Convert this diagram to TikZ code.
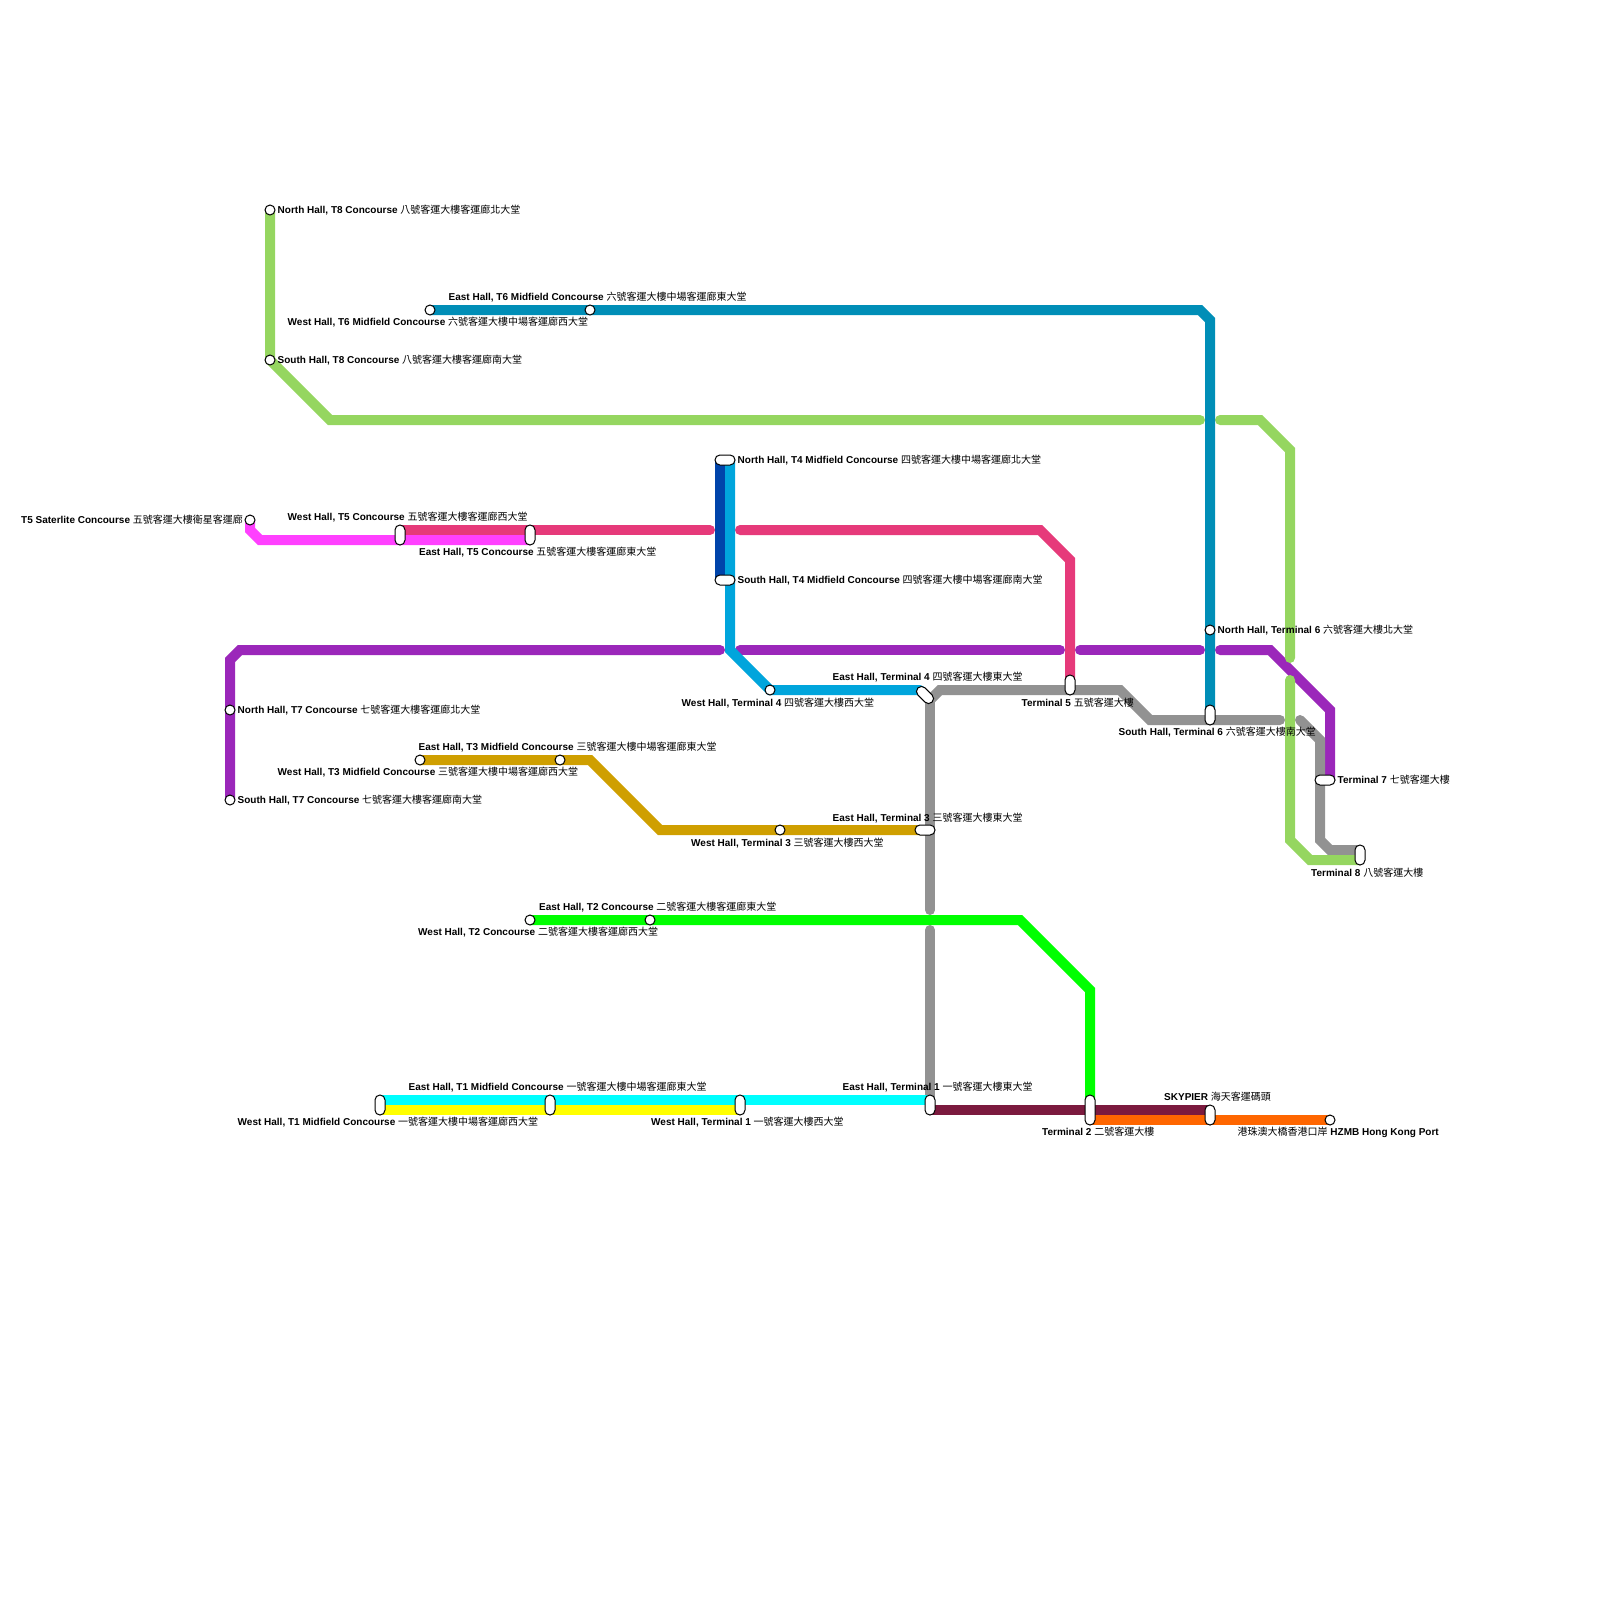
\documentclass[tikz,border=0pt]{standalone}
\usepackage{fontspec}
\setmainfont{Liberation Sans}
\newfontfamily\cjkfont{Noto Sans CJK TC}
\definecolor{cT8}{HTML}{95D660}
\definecolor{cT6}{HTML}{008EB7}
\definecolor{cSat}{HTML}{FF40FF}
\definecolor{cT5}{HTML}{E63A7A}
\definecolor{cT4a}{HTML}{0044AA}
\definecolor{cT4b}{HTML}{00A5DC}
\definecolor{cT7}{HTML}{9B27BA}
\definecolor{cGrey}{HTML}{929292}
\definecolor{cT3}{HTML}{CF9F00}
\definecolor{cT2}{HTML}{00FF00}
\definecolor{cT1a}{HTML}{00FFFF}
\definecolor{cT1b}{HTML}{FFFF00}
\definecolor{cMar}{HTML}{7B1A3E}
\definecolor{cOra}{HTML}{FF6600}
\tikzset{
  ln/.style={line width=10pt,line cap=round,line join=miter,miter limit=10},
  stn/.style={circle,draw=black,fill=white,line width=1pt,minimum size=10pt,inner sep=0pt},
  vpill/.style={rectangle,rounded corners=4.9pt,draw=black,fill=white,line width=1pt,minimum width=10pt,minimum height=20pt,inner sep=0pt},
  hpill/.style={rectangle,rounded corners=4.9pt,draw=black,fill=white,line width=1pt,minimum width=20pt,minimum height=10pt,inner sep=0pt},
  tpill/.style={vpill,minimum height=30pt},
  dpill/.style={hpill,rotate=-45},
  lab/.style={anchor=base west,inner sep=0pt,font=\fontsize{10}{12}\selectfont,text=black},
  labr/.style={lab,anchor=base east}
}
\newcommand{\LB}[5][lab]{\node[#1] (#2) at #3 {\textbf{#4} {\cjkfont #5}};}
\begin{document}
\begin{tikzpicture}[x=1pt,y=-1pt]
\useasboundingbox (0,0) rectangle (1600,1600);
% waypoints
\foreach \n/\x/\y in {
 t8n/270/210,t8s/270/360,g1/330/420,g2/1200/420,g3/1220/420,g4/1260/420,g5/1290/450,g6/1290/658,
 g7/1290/680,g8/1290/840,g9/1310/860,g10/1360/860,
 t6w/430/310,t6e/590/310,b1/1200/310,b2/1210/320,b3/1210/710,t6n/1210/630,
 sat/250/520,m1/250/530,m2/260/540,m3/530/540,
 p1/400/530,p2/710/530,p3/740/530,p4/1040/530,p5/1070/560,p6/1070/680,
 d1/720/460,d2/720/580,l1/730/460,l2/730/650,l3/770/690,l4/920/690,
 y1/930/700,y2/930/910,y3/930/930,y4/930/1100,y5/940/690,y6/1120/690,y7/1150/720,y8/1280/720,
 y9/1300/720,y10/1320/740,y11/1320/840,y12/1330/850,y13/1360/850,
 u1/230/800,u0/230/710,u2/230/660,u3/240/650,u4/720/650,u5/740/650,u6/1060/650,u7/1080/650,u8/1200/650,
 u9/1220/650,u10/1270/650,u11/1330/710,u12/1330/780,
 t3w/420/760,t3m/560/760,o1/590/760,o2/660/830,o3/780/830,o4/925/830,
 t2w/530/920,t2e/650/920,e1/1020/920,e2/1090/990,e3/1090/1100,
 c1/380/1100,c2/930/1100,w1/380/1110,w2/740/1110,
 r1/930/1110,r2/1210/1110,f1/1090/1120,f2/1330/1120,
 s1/380/1105,s2/550/1105,s3/740/1105,s4/930/1105,s5/1090/1110,s6/1210/1115,
 s7/400/535,s8/530/535,s9/725/460,s10/725/580,s11/925/695,s12/1070/685,s13/1210/715,s14/1325/780,s15/1360/855}
 {\coordinate (\n) at (\x,\y);}
% lines
\draw[ln,cT8] (t8n) -- (t8s) -- (g1) -- (g2);
\draw[ln,cT7] (u1) -- (u2) -- (u3) -- (u4);
\draw[ln,cT7] (u5) -- (u6);
\draw[ln,cT7] (u7) -- (u8);
\draw[ln,cT7] (u9) -- (u10) -- (u11) -- (u12);
\draw[ln,cT8] (g3) -- (g4) -- (g5) -- (g6);
\draw[ln,cGrey] (y1) -- (y2);
\draw[ln,cGrey] (y3) -- (y4);
\draw[ln,cGrey] (y1) -- (y5) -- (y6) -- (y7) -- (y8);
\draw[ln,cGrey] (y9) -- (y10) -- (y11) -- (y12) -- (y13);
\draw[ln,cT8] (g7) -- (g8) -- (g9) -- (g10);
\draw[ln,cT6] (t6w) -- (b1) -- (b2) -- (b3);
\draw[ln,cSat] (sat) -- (m1) -- (m2) -- (m3);
\draw[ln,cT5] (p1) -- (p2);
\draw[ln,cT5] (p3) -- (p4) -- (p5) -- (p6);
\draw[ln,cT4a] (d1) -- (d2);
\draw[ln,cT4b] (l1) -- (l2) -- (l3) -- (l4);
\draw[ln,cT3] (t3w) -- (o1) -- (o2) -- (o4);
\draw[ln,cT2] (t2w) -- (e1) -- (e2) -- (e3);
\draw[ln,cT1a] (c1) -- (c2);
\draw[ln,cT1b] (w1) -- (w2);
\draw[ln,cMar] (r1) -- (r2);
\draw[ln,cOra] (f1) -- (f2);
% stations
\node[stn] (nT8n) at (t8n) {};
\node[stn] (nT8s) at (t8s) {};
\node[stn] (nT6w) at (t6w) {};
\node[stn] (nT6e) at (t6e) {};
\node[stn] (nT6n) at (t6n) {};
\node[stn] (nSat) at (sat) {};
\node[stn] (nT7n) at (u0) {};
\node[stn] (nT7s) at (u1) {};
\node[stn] (nT3w) at (t3w) {};
\node[stn] (nT3m) at (t3m) {};
\node[stn] (nT3t) at (o3) {};
\node[stn] (nT4w) at (l3) {};
\node[stn] (nT2w) at (t2w) {};
\node[stn] (nT2e) at (t2e) {};
\node[stn] (nHz) at (f2) {};
\node[vpill] (nS1) at (s1) {};
\node[vpill] (nS2) at (s2) {};
\node[vpill] (nS3) at (s3) {};
\node[vpill] (nS4) at (s4) {};
\node[tpill] (nS5) at (s5) {};
\node[vpill] (nS6) at (s6) {};
\node[vpill] (nS7) at (s7) {};
\node[vpill] (nS8) at (s8) {};
\node[hpill] (nS9) at (s9) {};
\node[hpill] (nS10) at (s10) {};
\node[dpill] (nS11) at (s11) {};
\node[vpill] (nS12) at (s12) {};
\node[vpill] (nS13) at (s13) {};
\node[hpill] (nS14) at (s14) {};
\node[hpill] (nS3t) at (925,830) {};
\node[vpill] (nS15) at (s15) {};
% labels
\LB{a1}{(277.5,213)}{North Hall, T8 Concourse}{八號客運大樓客運廊北大堂}
\LB{a2}{(277.5,363)}{South Hall, T8 Concourse}{八號客運大樓客運廊南大堂}
\LB{a3}{(448.5,300)}{East Hall, T6 Midfield Concourse}{六號客運大樓中場客運廊東大堂}
\LB{a4}{(287.5,325)}{West Hall, T6 Midfield Concourse}{六號客運大樓中場客運廊西大堂}
\LB{a5}{(21,523)}{T5 Saterlite Concourse}{五號客運大樓衛星客運廊}
\LB{a6}{(287.5,520)}{West Hall, T5 Concourse}{五號客運大樓客運廊西大堂}
\LB{a7}{(419,555)}{East Hall, T5 Concourse}{五號客運大樓客運廊東大堂}
\LB{a8}{(737.5,463)}{North Hall, T4 Midfield Concourse}{四號客運大樓中場客運廊北大堂}
\LB{a9}{(737.5,583)}{South Hall, T4 Midfield Concourse}{四號客運大樓中場客運廊南大堂}
\LB{a10}{(237.5,713)}{North Hall, T7 Concourse}{七號客運大樓客運廊北大堂}
\LB{a11}{(237.5,803)}{South Hall, T7 Concourse}{七號客運大樓客運廊南大堂}
\LB{a12}{(418.5,750)}{East Hall, T3 Midfield Concourse}{三號客運大樓中場客運廊東大堂}
\LB{a13}{(277.5,775)}{West Hall, T3 Midfield Concourse}{三號客運大樓中場客運廊西大堂}
\LB{a14}{(832.5,680)}{East Hall, Terminal 4}{四號客運大樓東大堂}
\LB{a15}{(681.5,706)}{West Hall, Terminal 4}{四號客運大樓西大堂}
\LB{a16}{(1021.5,706)}{Terminal 5}{五號客運大樓}
\LB{a17}{(1118.5,735)}{South Hall, Terminal 6}{六號客運大樓南大堂}
\LB{a18}{(1217.5,633)}{North Hall, Terminal 6}{六號客運大樓北大堂}
\LB{a19}{(1337.5,783)}{Terminal 7}{七號客運大樓}
\LB{a20}{(1311,876)}{Terminal 8}{八號客運大樓}
\LB{a21}{(832.5,821)}{East Hall, Terminal 3}{三號客運大樓東大堂}
\LB{a22}{(691,846)}{West Hall, Terminal 3}{三號客運大樓西大堂}
\LB{a23}{(539,910)}{East Hall, T2 Concourse}{二號客運大樓客運廊東大堂}
\LB{a24}{(418,935)}{West Hall, T2 Concourse}{二號客運大樓客運廊西大堂}
\LB{a25}{(408.5,1090)}{East Hall, T1 Midfield Concourse}{一號客運大樓中場客運廊東大堂}
\LB{a26}{(237.5,1125)}{West Hall, T1 Midfield Concourse}{一號客運大樓中場客運廊西大堂}
\LB{a27}{(651,1125)}{West Hall, Terminal 1}{一號客運大樓西大堂}
\LB{a28}{(842.5,1090)}{East Hall, Terminal 1}{一號客運大樓東大堂}
\LB{a29}{(1164,1100.5)}{SKYPIER}{海天客運碼頭}
\LB{a30}{(1042,1135)}{Terminal 2}{二號客運大樓}
\node[lab] (a31) at (1237.5,1135) {{\cjkfont 港珠澳大橋香港口岸} \textbf{HZMB Hong Kong Port}};
\end{tikzpicture}
\end{document}
